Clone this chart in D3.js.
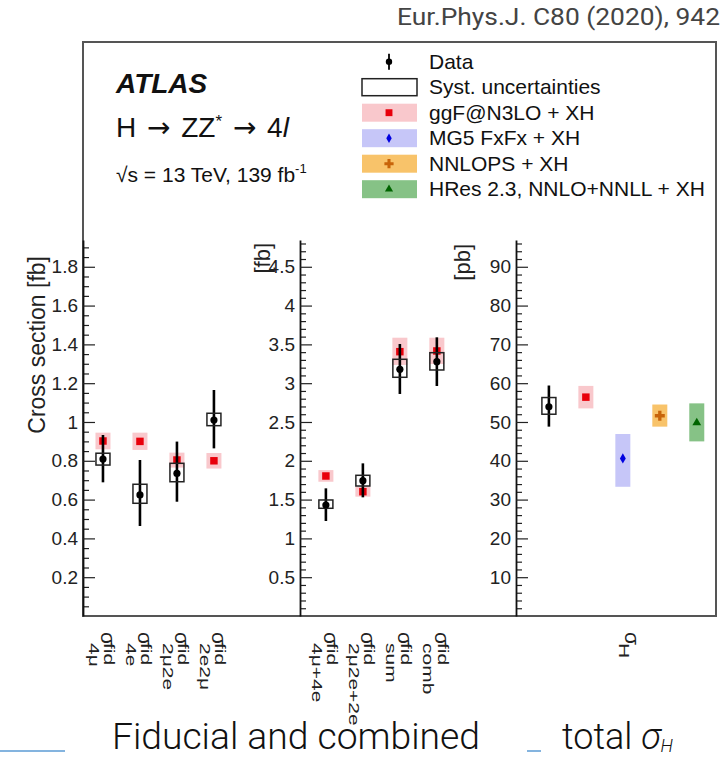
<!DOCTYPE html>
<html><head><meta charset="utf-8">
<script src="https://cdn.jsdelivr.net/npm/d3@7"></script>
<style>body{margin:0;background:#fff}svg{display:block}</style>
</head><body>
<svg id="c" width="726" height="758"></svg>
<script>
// ---------- data ----------
const fidCats = ["4μ", "4e", "2μ2e", "2e2μ"];
const fidData = [0.809, 0.624, 0.735, 1.010];
const fidTotLo = [0.689, 0.464, 0.589, 0.864];
const fidTotHi = [0.933, 0.804, 0.899, 1.165];
const fidSystLo = [0.778, 0.581, 0.692, 0.981];
const fidSystHi = [0.839, 0.679, 0.787, 1.045];
const fidPred = [0.902, 0.900, 0.804, 0.800];
const fidPredLo = [0.859, 0.856, 0.765, 0.760];
const fidPredHi = [0.945, 0.945, 0.842, 0.840];

const combCats = ["4μ+4e", "2μ2e+2e", "sum", "comb"];
const combData = [1.430, 1.744, 3.179, 3.277];
const combTotLo = [1.224, 1.529, 2.861, 2.964];
const combTotHi = [1.645, 1.967, 3.505, 3.591];
const combSystLo = [1.388, 1.675, 3.076, 3.170];
const combSystHi = [1.495, 1.813, 3.308, 3.393];
const combPred = [1.804, 1.602, 3.406, 3.415];
const combPredLo = [1.730, 1.538, 3.235, 3.247];
const combPredHi = [1.880, 1.667, 3.586, 3.586];

const totData = [53.9];
const totTotLo = [48.8];
const totTotHi = [59.4];
const totSystLo = [52.0];
const totSystHi = [56.3];
const totModels = ["ggF@N3LO + XH", "MG5 FxFx + XH", "NNLOPS + XH", "HRes 2.3, NNLO+NNLL + XH"];
const totPred = [56.4, 40.6, 51.6, 49.8];
const totPredLo = [53.5, 33.3, 48.8, 45.0];
const totPredHi = [59.3, 46.9, 54.5, 54.8];

const p1Ticks = [0.2, 0.4, 0.6, 0.8, 1.0, 1.2, 1.4, 1.6, 1.8];
const p2Ticks = [0.5, 1, 1.5, 2, 2.5, 3, 3.5, 4, 4.5];
const p3Ticks = [10, 20, 30, 40, 50, 60, 70, 80, 90];
const legendLabels = ["Data", "Syst. uncertainties", ...totModels];

// ---------- styles ----------
const modelStyle = [
  {band: "#f9c8cc", mark: "#e8000b", sym: d3.symbolSquare, size: 56},
  {band: "#c6c6f8", mark: "#0000e0", sym: d3.symbolDiamond, size: 30},
  {band: "#f8c36a", mark: "#c8640a", sym: d3.symbolCross, size: 55},
  {band: "#86c286", mark: "#006400", sym: d3.symbolTriangle, size: 34}
];
const FONT = "'Liberation Sans', Arial, Helvetica, sans-serif";

const svg = d3.select("#c");
const yBottom = 616, yTop = 240;

// frame
svg.append("rect").attr("x", 83).attr("y", 42).attr("width", 633).attr("height", 574)
  .attr("fill", "none").attr("stroke", "#555").attr("stroke-width", 2);

const panels = [
  {x0: 83, x1: 299, xd: [-0.54, 5.30], yd: [0, 1.938], ticks: p1Ticks, minor: 0.05,
   cats: fidCats, data: fidData, totLo: fidTotLo, totHi: fidTotHi, sLo: fidSystLo, sHi: fidSystHi,
   preds: [{vals: fidPred, lo: fidPredLo, hi: fidPredHi, style: 0, idx: fidCats.map((d,i)=>i)}],
   dataIdx: fidCats.map((d,i)=>i)},
  {x0: 300, x1: 516, xd: [-0.70, 5.14], yd: [0, 4.845], ticks: p2Ticks, minor: 0.1,
   cats: combCats, data: combData, totLo: combTotLo, totHi: combTotHi, sLo: combSystLo, sHi: combSystHi,
   preds: [{vals: combPred, lo: combPredLo, hi: combPredHi, style: 0, idx: combCats.map((d,i)=>i)}],
   dataIdx: combCats.map((d,i)=>i)},
  {x0: 516, x1: 716, xd: [-0.89, 4.52], yd: [0, 96.9], ticks: p3Ticks, minor: 2,
   cats: [], data: totData, totLo: totTotLo, totHi: totTotHi, sLo: totSystLo, sHi: totSystHi,
   preds: totPred.map((v,i)=>({vals: [v], lo: [totPredLo[i]], hi: [totPredHi[i]], style: i, idx: [i+1]})),
   dataIdx: [0]}
];

panels.forEach((p, pi) => {
  const x = d3.scaleLinear().domain(p.xd).range([p.x0, p.x1]);
  const y = d3.scaleLinear().domain(p.yd).range([yBottom, yTop]);
  const g = svg.append("g");

  // minor ticks
  const minors = d3.range(p.minor, p.yd[1], p.minor).filter(v => !p.ticks.some(t => Math.abs(t - v) < 1e-6));
  const minorAx = d3.axisLeft(y).tickValues(minors).tickSize(-6).tickSizeOuter(0).tickFormat("");
  const gm = g.append("g").attr("transform", `translate(${p.x0},0)`).call(minorAx);
  gm.select(".domain").remove();
  gm.selectAll("line").attr("stroke", "#222").attr("stroke-width", 1.2);

  const majorAx = d3.axisLeft(y).tickValues(p.ticks).tickSize(-12).tickSizeOuter(0).tickPadding(5)
    .tickFormat(d3.format("~g"));
  const ga = g.append("g").attr("transform", `translate(${p.x0},0)`).call(majorAx);
  ga.select(".domain").attr("stroke", "#111").attr("stroke-width", 1.8);
  ga.selectAll("line").attr("stroke", "#222").attr("stroke-width", 1.2);
  ga.selectAll("text").attr("font-family", FONT).attr("font-size", 19).attr("fill", "#222");

  // prediction bands + markers
  p.preds.forEach(pr => {
    const st = modelStyle[pr.style];
    pr.idx.forEach((ix, k) => {
      g.append("rect").attr("x", x(ix) - 7.5).attr("width", 15)
        .attr("y", y(pr.hi[k])).attr("height", y(pr.lo[k]) - y(pr.hi[k]))
        .attr("fill", st.band);
      g.append("path").attr("d", d3.symbol(st.sym, st.size)())
        .attr("transform", `translate(${x(ix)},${y(pr.vals[k])})`).attr("fill", st.mark);
    });
  });

  // data: syst box, total error, point
  p.dataIdx.forEach((ix, k) => {
    g.append("line").attr("x1", x(ix)).attr("x2", x(ix))
      .attr("y1", y(p.totLo[k])).attr("y2", y(p.totHi[k]))
      .attr("stroke", "#000").attr("stroke-width", 2.6);
    g.append("rect").attr("x", x(ix) - 7).attr("width", 14)
      .attr("y", y(p.sHi[k])).attr("height", y(p.sLo[k]) - y(p.sHi[k]))
      .attr("fill", "none").attr("stroke", "#222").attr("stroke-width", 1.5);
    g.append("circle").attr("cx", x(ix)).attr("cy", y(p.data[k])).attr("r", 3.6).attr("fill", "#000");
  });

  // x labels (rotated sigma labels)
  const labs = pi < 2 ? p.cats.map((c,i)=>({sub: c, sup: "fid", pos: i})) : [{sub: "H", sup: "", pos: 2.11}];
  labs.forEach(l => {
    const lg = svg.append("g").attr("transform", `translate(${x(l.pos) - 2},632) rotate(90)`);
    lg.append("text").attr("x", 0).attr("y", 0).attr("font-family", FONT).attr("font-size", 21)
      .attr("fill", "#222").text("σ");
    const sg = lg.append("g").attr("transform", "translate(11,0) scale(1.4,1)");
    if (l.sup) sg.append("text").attr("x", 0).attr("y", -3).attr("font-family", FONT)
      .attr("font-size", 15).attr("fill", "#222").text(l.sup);
    sg.append("text").attr("x", 0).attr("y", l.sup ? 11.5 : 6).attr("font-family", FONT)
      .attr("font-size", 15).attr("fill", "#222").text(l.sub);
  });
});

// y titles
svg.append("text").attr("transform", "translate(45,256) rotate(-90)").attr("text-anchor", "end")
  .attr("font-family", FONT).attr("font-size", 23).attr("fill", "#222").text("Cross section [fb]");
svg.append("text").attr("transform", "translate(270,243) rotate(-90)").attr("text-anchor", "end")
  .attr("font-family", FONT).attr("font-size", 22).attr("fill", "#222").text("[fb]");
svg.append("text").attr("transform", "translate(470,244) rotate(-90)").attr("text-anchor", "end")
  .attr("font-family", FONT).attr("font-size", 22).attr("fill", "#222").text("[pb]");

// ATLAS labels
svg.append("text").attr("x", 116).attr("y", 93).attr("font-family", FONT).attr("font-size", 28)
  .attr("font-weight", "bold").attr("font-style", "italic").attr("fill", "#111").text("ATLAS");
const t2 = svg.append("text").attr("x", 116).attr("y", 137).attr("font-family", FONT).attr("font-size", 28).attr("fill", "#111");
t2.append("tspan").text("H ");
t2.append("tspan").attr("dx", 3).attr("font-family", "'DejaVu Sans'").attr("font-size", 28).text("→");
t2.append("tspan").attr("dx", 3).text(" ZZ");
t2.append("tspan").attr("dy", -10).attr("font-size", 17).text("*");
t2.append("tspan").attr("dy", 10).text(" ");
t2.append("tspan").attr("dx", 3).attr("font-family", "'DejaVu Sans'").attr("font-size", 28).text("→");
t2.append("tspan").attr("dx", 3).text(" 4");
t2.append("tspan").attr("font-style", "italic").text("l");
const t3 = svg.append("text").attr("x", 116).attr("y", 182).attr("font-family", FONT).attr("font-size", 21).attr("fill", "#111");
t3.append("tspan").text("√s = 13 TeV, 139 fb");
t3.append("tspan").attr("dy", -9).attr("font-size", 13).text("-1");

// legend
const lg = svg.append("g");
legendLabels.forEach((lab, i) => {
  const cy = 61.7 + i * 25.5;
  if (i === 0) {
    lg.append("line").attr("x1", 389).attr("x2", 389).attr("y1", cy - 8).attr("y2", cy + 8)
      .attr("stroke", "#000").attr("stroke-width", 1.8);
    lg.append("circle").attr("cx", 389).attr("cy", cy).attr("r", 3.2).attr("fill", "#000");
  } else if (i === 1) {
    lg.append("rect").attr("x", 362).attr("y", cy - 8.5).attr("width", 55).attr("height", 17)
      .attr("fill", "#fff").attr("stroke", "#222").attr("stroke-width", 1.5);
  } else {
    const st = modelStyle[i - 2];
    lg.append("rect").attr("x", 362).attr("y", cy - 9).attr("width", 55).attr("height", 18).attr("fill", st.band);
    lg.append("path").attr("d", d3.symbol(st.sym, st.size * 0.85)())
      .attr("transform", `translate(389,${cy})`).attr("fill", st.mark);
  }
  lg.append("text").attr("x", 429).attr("y", cy + 7).attr("font-family", FONT).attr("font-size", 21)
    .attr("fill", "#111").text(lab);
});

// citation
svg.append("text").attr("x", 720).attr("y", 25).attr("text-anchor", "end")
  .attr("font-family", "Roboto, 'Noto Sans', sans-serif").attr("font-size", 23).attr("fill", "#444")
  .attr("textLength", 323).attr("lengthAdjust", "spacingAndGlyphs")
  .text("Eur.Phys.J. C80 (2020), 942");

// bottom captions
svg.append("text").attr("x", 112).attr("y", 749).attr("font-family", "Roboto, sans-serif")
  .attr("font-weight", 300).attr("font-size", 36).attr("fill", "#111")
  .attr("textLength", 368).attr("lengthAdjust", "spacingAndGlyphs").text("Fiducial and combined");
const bt = svg.append("text").attr("x", 562).attr("y", 749).attr("font-family", "Roboto, sans-serif")
  .attr("font-weight", 300).attr("font-size", 36).attr("fill", "#111");
bt.append("tspan").text("total ");
bt.append("tspan").attr("font-style", "italic").text("σ");
bt.append("tspan").attr("dy", 3).attr("font-size", 18).attr("font-style", "italic").text("H");

// decorative lines
svg.append("line").attr("x1", 0).attr("x2", 65).attr("y1", 751).attr("y2", 751).attr("stroke", "#5b9bd5").attr("stroke-width", 1.5);
svg.append("line").attr("x1", 527).attr("x2", 541).attr("y1", 751).attr("y2", 751).attr("stroke", "#5b9bd5").attr("stroke-width", 1.5);
</script>
</body></html>
